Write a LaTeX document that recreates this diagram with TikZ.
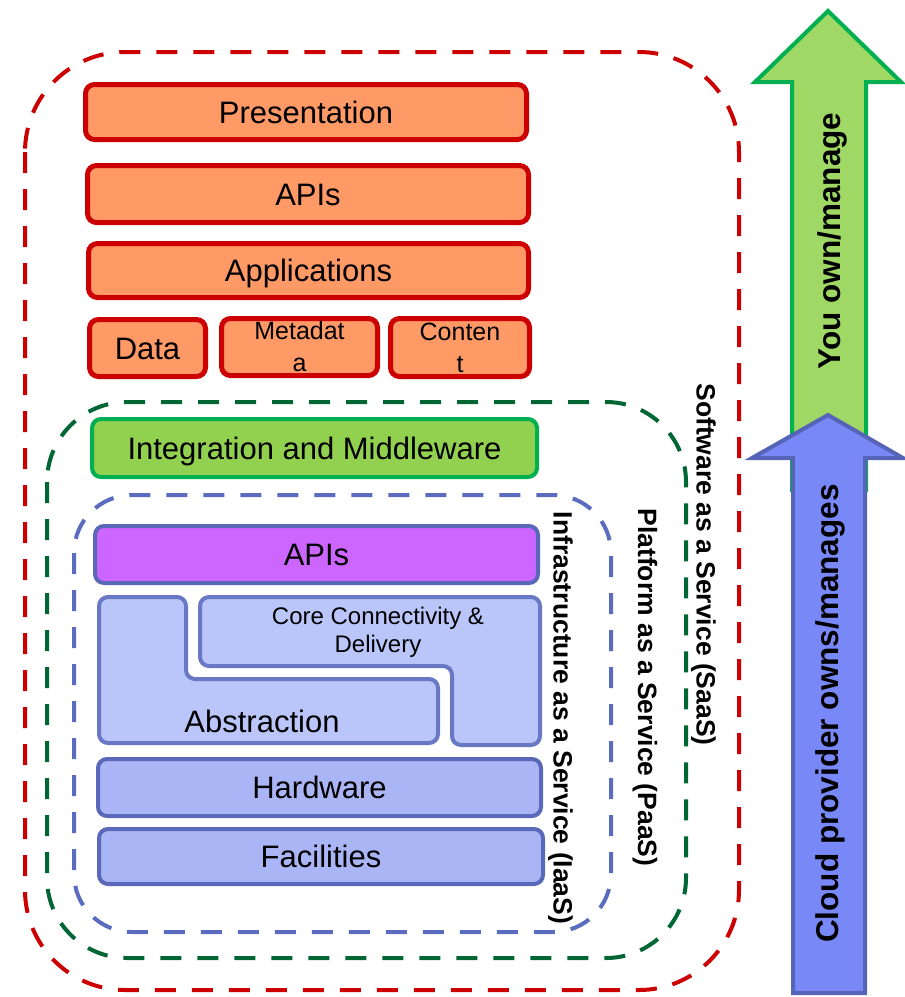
\documentclass[tikz,border=0pt]{standalone}
\usepackage{fontspec}
\setmainfont{Liberation Sans}
\definecolor{redline}{HTML}{CC0000}
\definecolor{orangefill}{HTML}{FF9966}
\definecolor{greendash}{HTML}{006633}
\definecolor{bluedash}{HTML}{5B6BC0}
\definecolor{midfill}{HTML}{92D050}
\definecolor{midline}{HTML}{00B050}
\definecolor{purplefill}{HTML}{CC66FF}
\definecolor{infraline}{HTML}{5A68BA}
\definecolor{coreline}{HTML}{6878C4}
\definecolor{corefill}{HTML}{BAC6FA}
\definecolor{hwfill}{HTML}{AAB5F6}
\definecolor{youfill}{HTML}{A0D866}
\definecolor{cloudfill}{HTML}{7888F6}
\definecolor{cloudline}{HTML}{5664B8}
\begin{document}
\begin{tikzpicture}[x=1pt,y=-1pt,
  lbl/.style={font=\fontsize{31}{36}\selectfont, text height=22pt, text depth=0pt, inner sep=0pt},
  smalllbl/.style={font=\fontsize{25}{32}\selectfont, align=center, inner sep=0pt},
  sidelbl/.style={font=\fontsize{26.5}{30}\selectfont\bfseries, text height=19pt, text depth=0pt, inner sep=0pt, rotate=-90},
  arrowlbl/.style={font=\fontsize{31.5}{36}\selectfont\bfseries, text height=22.5pt, text depth=0pt, inner sep=0pt, rotate=90},
  layerdash/.style={line width=4pt, dash pattern=on 21pt off 16pt},
  appbox/.style={draw=redline, fill=orangefill, line width=5pt, rounded corners=9pt, inner sep=0pt},
  midbox/.style={draw=midline, fill=midfill, line width=4pt, rounded corners=9pt, inner sep=0pt},
  infrabox/.style={draw=infraline, line width=4pt, rounded corners=9pt, inner sep=0pt},
  corebox/.style={draw=coreline, fill=corefill, line width=4pt, rounded corners=9pt},
  bigarrow/.style={line width=4pt, line join=miter},
]
\useasboundingbox (0,0) rectangle (905,997);

% service model boundaries
\draw[layerdash, draw=redline, rounded corners=100pt] (25,52) rectangle (739,990);
\draw[layerdash, draw=greendash, rounded corners=80pt] (47,402) rectangle (686,958);
\draw[layerdash, draw=bluedash, rounded corners=58pt] (74,495) rectangle (611,932);

% application stack
\node[appbox, lbl, minimum width=441pt, minimum height=55pt] (pres) at (306,112) {Presentation};
\node[appbox, lbl, minimum width=441pt, minimum height=57pt] (apiapp) at (308,194) {APIs};
\node[appbox, lbl, minimum width=440pt, minimum height=54pt] (apps) at (308.5,270.5) {Applications};
\node[appbox, lbl, minimum width=116pt, minimum height=57pt] (data) at (147.5,348) {Data};
\node[appbox, smalllbl, minimum width=156pt, minimum height=57pt] (meta) at (299.5,347) {Metadat\\a};
\node[appbox, smalllbl, minimum width=139pt, minimum height=58pt] (content) at (460,347.5) {Conten\\t};

% platform layer
\node[midbox, lbl, minimum width=445pt, minimum height=58pt] (middleware) at (314.5,448) {Integration and Middleware};

% infrastructure layers
\node[infrabox, fill=purplefill, lbl, minimum width=443pt, minimum height=57pt] (apiinfra) at (316.5,554.5) {APIs};
\draw[corebox] (99,597) -- (186,597) -- (186,679) -- (438,679) -- (438,743) -- (99,743) -- cycle;
\draw[corebox] (200,597) -- (540,597) -- (540,745) -- (452,745) -- (452,666) -- (200,666) -- cycle;
\node[lbl] (abstraction) at (262,721) {Abstraction};
\node[font=\fontsize{24}{28}\selectfont, align=center, inner sep=0pt] (core) at (378,632.5) {Core Connectivity \&\\Delivery};
\node[infrabox, fill=hwfill, lbl, minimum width=443pt, minimum height=57pt] (hardware) at (319.5,787.5) {Hardware};
\node[infrabox, fill=hwfill, lbl, minimum width=444pt, minimum height=55pt] (facilities) at (321,856.5) {Facilities};

% service model names
\node[sidelbl] (saas) at (706,564.5) {Software as a Service (SaaS)};
\node[sidelbl] (paas) at (647.5,687.5) {Platform as a Service (PaaS)};
\node[sidelbl] (iaas) at (563,718) {Infrastructure as a Service (IaaS)};

% responsibility arrows
\draw[bigarrow, draw=midline, fill=youfill] (792,490) -- (792,82) -- (755,82) -- (828,11) -- (901,82) -- (866,82) -- (866,490) -- cycle;
\node[arrowlbl] (you) at (829,241) {You own/manage};
\draw[bigarrow, draw=cloudline, fill=cloudfill] (793,993) -- (793,458) -- (752,458) -- (828,415) -- (903,458) -- (865,458) -- (865,993) -- cycle;
\node[arrowlbl] (cloud) at (827,713.5) {Cloud provider owns/manages};
\end{tikzpicture}
\end{document}
